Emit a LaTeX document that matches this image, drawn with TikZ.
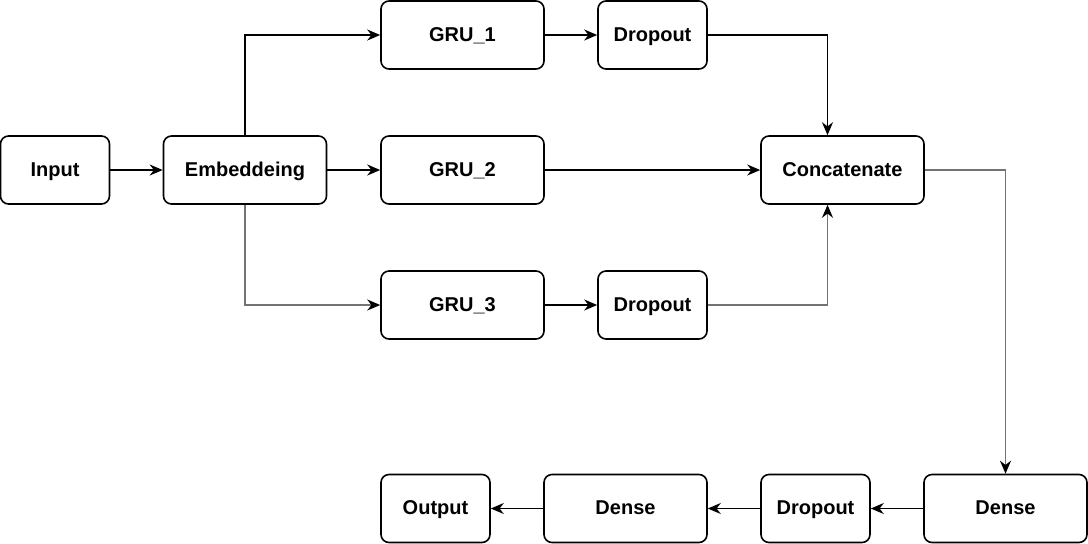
\documentclass[tikz,border=0pt]{standalone}
\usepackage{fontspec}
\setmainfont{Liberation Sans}
\usetikzlibrary{arrows.meta}
\usetikzlibrary{positioning}

\tikzset{
    layer/.style={draw, thick, rounded corners=4pt, minimum width=81.5pt,
        minimum height=34pt, font=\bfseries, inner sep=0pt,
        text height=1.6ex, text depth=0.4ex},
    smalllayer/.style={layer, minimum width=54.5pt},
    arr/.style={-{Stealth[length=6.5pt,width=5.5pt,color=black]}, line width=0.8pt},
    greyarr/.style={arr, draw=black!55}
}

\begin{document}
\begin{tikzpicture}[x=0.5pt,y=-0.5pt]
    \useasboundingbox (0,0) rectangle (1088,543);

    % input side
    \node[smalllayer] (input) at (55,170) {Input};
    \node[layer] (embed) at (245,170) {Embeddeing};

    % three branches
    \node[layer] (gru1) at (462.5,35) {GRU\_1};
    \node[smalllayer] (drop1) at (652.5,35) {Dropout};
    \node[layer] (gru2) at (462.5,170) {GRU\_2};
    \node[layer] (gru3) at (462.5,305) {GRU\_3};
    \node[smalllayer] (drop3) at (652.5,305) {Dropout};
    \node[layer] (concat) at (842.5,170) {Concatenate};

    % output row
    \node[layer] (dense1) at (1005.5,508.5) {Dense};
    \node[smalllayer] (drop4) at (815.5,508.5) {Dropout};
    \node[layer] (dense2) at (625.5,508.5) {Dense};
    \node[smalllayer] (output) at (435.5,508.5) {Output};

    \draw[arr] (input) -- (embed);
    \draw[arr] (embed.north) |- (gru1.west);
    \draw[arr] (embed) -- (gru2);
    \draw[greyarr] (embed.south) |- (gru3.west);
    \draw[arr] (gru1) -- (drop1);
    \draw[arr] (gru3) -- (drop3);
    \draw[arr] (drop1.east) -| ([xshift=-7.5pt]concat.north);
    \draw[arr] (gru2) -- (concat);
    \draw[greyarr] (drop3.east) -| ([xshift=-7.5pt]concat.south);
    \draw[greyarr] (concat.east) -| (dense1.north);
    \draw[arr] (dense1) -- (drop4);
    \draw[arr] (drop4) -- (dense2);
    \draw[arr] (dense2) -- (output);
\end{tikzpicture}
\end{document}
